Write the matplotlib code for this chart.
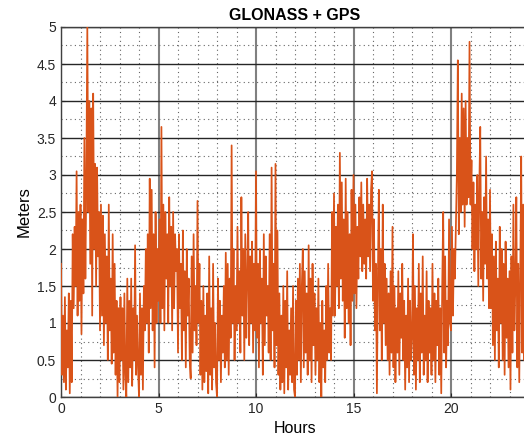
import numpy as np
import matplotlib
matplotlib.use('Agg')
import matplotlib.pyplot as plt
from matplotlib.ticker import MultipleLocator, FormatStrFormatter

plt.rcParams['font.family'] = ['Liberation Sans', 'DejaVu Sans']

# sample step in hours
step = 0.05

# error values in meters, one row per hour (20 samples each)
h00_05 = [
    1.8, 0.3, 1.1, 0.2, 1.35, 0.1, 0.9, 0.4, 1.4, 0.05, 1.3, 0.2, 2.2, 1.2, 2.3, 1.5, 3.05, 1.1, 2.5, 1.3,
    2.6, 0.85, 2.4, 1.4, 3.5, 1.6, 3.0, 5.0, 2.5, 4.0, 1.8, 3.9, 1.1, 4.1, 2.0, 3.15, 1.5, 3.1, 1.9, 2.5,
    0.9, 2.6, 1.1, 2.45, 0.7, 2.2, 1.0, 1.9, 0.5, 2.6, 0.9, 1.6, 0.45, 2.2, 0.6, 1.8, 0.3, 1.3, 0.0, 1.2,
    0.2, 1.35, 0.5, 1.2, 0.1, 1.4, 0.3, 0.0, 1.6, 0.2, 1.3, 0.4, 1.6, 0.15, 1.2, 0.5, 2.05, 0.3, 1.1, 0.4,
    0.0, 1.4, 0.3, 1.2, 0.1, 1.5, 0.9, 2.0, 1.0, 2.2, 0.6, 2.95, 1.2, 2.8, 0.9, 2.2, 0.4, 2.5, 1.0, 2.0,
]
h05_10 = [
    1.3, 2.4, 1.0, 3.65, 1.2, 2.6, 0.9, 2.5, 1.6, 2.2, 1.0, 2.7, 1.5, 2.3, 0.9, 2.5, 1.2, 2.2, 1.7, 2.0,
    0.6, 2.2, 1.2, 1.8, 0.5, 2.25, 0.9, 1.7, 0.4, 2.0, 1.1, 1.6, 0.5, 0.25, 1.9, 0.6, 2.2, 0.9, 1.5, 0.7,
    2.65, 1.0, 1.8, 0.3, 1.3, 0.1, 1.5, 0.2, 1.1, 0.35, 1.4, 0.05, 1.9, 0.3, 1.2, 0.1, 1.8, 0.4, 1.0, 0.2,
    0.0, 1.6, 0.5, 1.3, 0.2, 1.1, 0.6, 1.5, 0.4, 1.95, 0.5, 1.8, 0.3, 1.6, 0.8, 3.4, 1.0, 2.0, 0.5, 1.5,
    0.9, 2.3, 1.0, 1.7, 0.6, 2.7, 1.1, 2.0, 0.5, 2.2, 0.8, 1.6, 2.5, 0.7, 1.9, 1.0, 2.1, 0.6, 1.8, 0.9,
]
h10_15 = [
    3.05, 0.8, 1.8, 0.4, 2.0, 1.0, 1.6, 0.3, 2.2, 0.7, 1.9, 1.1, 1.5, 0.6, 2.2, 0.5, 3.1, 0.9, 1.8, 0.4,
    3.15, 0.7, 2.25, 0.3, 1.4, 0.1, 1.1, 0.2, 1.5, 0.05, 1.3, 0.4, 1.7, 0.1, 0.9, 0.3, 1.2, 0.2, 1.5, 0.1,
    0.0, 1.3, 0.3, 1.6, 0.5, 1.8, 0.2, 1.5, 2.0, 0.4, 1.7, 0.6, 1.4, 0.3, 2.05, 0.5, 1.6, 0.2, 1.8, 0.7,
    1.4, 0.3, 1.2, 0.5, 1.6, 0.2, 1.0, 0.0, 1.3, 0.4, 0.9, 0.2, 1.5, 0.5, 1.8, 0.6, 1.2, 0.5, 2.5, 1.1,
    2.75, 1.1, 2.3, 1.5, 2.6, 1.2, 3.3, 1.6, 2.9, 1.3, 2.4, 0.8, 2.95, 1.2, 2.5, 1.0, 2.2, 0.7, 2.8, 1.3,
]
h15_20 = [
    3.0, 1.4, 2.6, 1.2, 2.3, 1.6, 2.7, 1.9, 2.9, 1.7, 2.6, 1.8, 2.4, 1.6, 2.95, 1.9, 2.6, 1.7, 2.8, 3.05,
    1.3, 2.4, 0.9, 1.8, 0.05, 1.6, 2.8, 0.9, 2.0, 0.5, 2.6, 1.0, 1.8, 0.7, 1.6, 0.5, 1.4, 0.3, 1.7, 0.6,
    2.3, 0.4, 1.5, 0.2, 1.2, 0.6, 1.7, 0.3, 1.4, 0.8, 1.8, 0.5, 1.3, 0.1, 1.1, 0.4, 1.6, 0.2, 1.3, 0.5,
    0.8, 2.2, 0.3, 1.5, 0.1, 1.2, 0.5, 1.8, 0.2, 1.4, 0.6, 1.9, 0.3, 1.1, 0.5, 1.7, 0.2, 1.3, 0.6, 1.2,
    0.3, 1.8, 0.5, 1.4, 0.2, 1.3, 0.7, 1.6, 0.3, 1.2, 0.05, 1.5, 2.5, 0.6, 1.9, 0.4, 1.3, 0.7, 2.4, 1.0,
]
h20_24 = [
    0.9, 2.3, 1.1, 2.0, 1.6, 2.3, 3.0, 4.55, 2.2, 3.5, 2.5, 4.1, 2.6, 3.9, 2.3, 4.0, 2.6, 3.5, 2.7, 4.8,
    2.6, 3.2, 2.0, 2.9, 1.7, 2.6, 2.0, 3.0, 1.5, 2.8, 3.65, 1.6, 2.5, 1.3, 2.7, 1.8, 3.25, 1.6, 2.4, 1.2,
    2.8, 1.2, 2.2, 0.7, 1.9, 0.5, 2.1, 0.9, 1.6, 0.4, 2.3, 1.0, 2.0, 0.5, 1.8, 0.3, 2.1, 0.8, 1.6, 0.4,
    1.7, 0.1, 1.9, 0.6, 2.6, 0.9, 1.5, 2.7, 0.4, 1.8, 0.2, 1.6, 3.25, 0.6, 2.6, 0.5, 2.0, 0.9, 1.7, 0.6,
]

meters = np.array(h00_05 + h05_10 + h10_15 + h15_20 + h20_24)
hours = np.arange(len(meters)) * step

fig = plt.figure(figsize=(5.24, 4.44), dpi=100)
ax = fig.add_axes([61/524, 47/444, 468/524, 370/444])

ax.plot(hours, meters, color='#D95319', linewidth=1.25, zorder=3)

ax.set_xlim(0, 24)
ax.set_ylim(0, 5)
ax.xaxis.set_major_locator(MultipleLocator(5))
ax.xaxis.set_minor_locator(MultipleLocator(1))
ax.yaxis.set_major_locator(MultipleLocator(0.5))
ax.yaxis.set_minor_locator(MultipleLocator(0.25))
ax.yaxis.set_major_formatter(FormatStrFormatter('%g'))

ax.grid(which='major', axis='y', color='#262626', linestyle='-', linewidth=1.0, zorder=1)
ax.grid(which='major', axis='x', color='#808080', linestyle='-', linewidth=1.5, zorder=1)
ax.grid(which='minor', color='#666666', linestyle=(0, (1, 3)), linewidth=0.8, zorder=1)

ax.tick_params(which='both', direction='in', labelsize=10, colors='#262626', length=3)
ax.tick_params(which='minor', length=0)
for side in ax.spines.values():
    side.set_color('#404040')
    side.set_linewidth(1.0)

ax.set_title('GLONASS + GPS', fontsize=11.5, fontweight='bold', pad=5)
ax.set_xlabel('Hours', fontsize=11.5, labelpad=4)
ax.set_ylabel('Meters', fontsize=12, labelpad=4)

fig.savefig('out.png', dpi=100)
